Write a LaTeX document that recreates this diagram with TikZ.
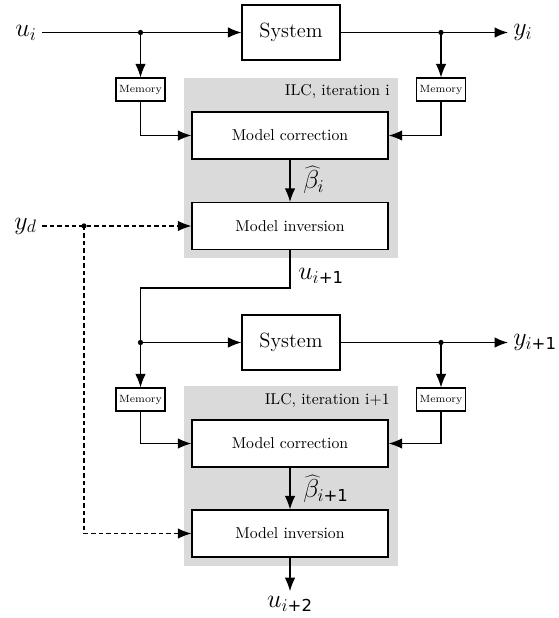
\documentclass[tikz,border=0pt]{standalone}
\usepackage{fontspec}
\usetikzlibrary{arrows.meta}
\newfontfamily\dvs{DejaVu Sans}
\definecolor{ilcgray}{RGB}{218,218,218}
\newcommand{\sub}[1]{\mbox{\fontsize{11}{12}\dvs #1}}
\begin{document}
\begin{tikzpicture}[x=0.6667pt,y=-0.6667pt,
  >={Latex[length=9pt,width=7pt]},
  line/.style={line width=0.8pt},
  dline/.style={line width=0.8pt,dash pattern=on 3pt off 2pt},
  sysbox/.style={draw,line width=0.8pt,minimum width=65.3pt,minimum height=36.7pt,fill=white,font=\fontsize{13.7}{16}\selectfont},
  modbox/.style={draw,line width=0.8pt,minimum width=130.7pt,minimum height=31.3pt,fill=white,font=\fontsize{10.5}{12}\selectfont},
  membox/.style={draw,line width=0.8pt,minimum width=32.7pt,minimum height=15.3pt,inner sep=1pt,fill=white,font=\fontsize{7}{8}\selectfont},
  lbl/.style={font=\fontsize{17}{19}\selectfont},
  dot/.style={circle,fill=black,inner sep=0pt,minimum size=3.5pt}]
\useasboundingbox (0,0) rectangle (558,618);
% gray ILC backgrounds
\fill[ilcgray] (184,78) rectangle (398,258);
\fill[ilcgray] (184,386) rectangle (398,566);
\node[anchor=east,inner sep=0pt,font=\fontsize{10.5}{12}\selectfont] (ilc1) at (390,91) {ILC, iteration i};
\node[anchor=east,inner sep=0pt,font=\fontsize{10.5}{12}\selectfont] (ilc2) at (390,400) {ILC, iteration i+1};
% nodes
\node[sysbox] (sys1) at (291,32.5) {System};
\node[sysbox] (sys2) at (291,342.5) {System};
\node[membox] (m1l) at (140.5,89.5) {Memory};
\node[membox] (m1r) at (441,89.5) {Memory};
\node[membox] (m2l) at (140.5,399.5) {Memory};
\node[membox] (m2r) at (441,399.5) {Memory};
\node[modbox] (mc1) at (290,135.5) {Model correction};
\node[modbox] (mi1) at (290,226) {Model inversion};
\node[modbox] (mc2) at (290,443.5) {Model correction};
\node[modbox] (mi2) at (290,533.5) {Model inversion};
% labels
\node[lbl,anchor=east] (ui) at (42,32.5) {$u_i$};
\node[lbl,anchor=west] (yi) at (508,32.5) {$y_i$};
\node[lbl,anchor=east] (yd) at (42,226) {$y_d$};
\node[lbl,anchor=west] (yi1) at (508,342.5) {$y_{i\sub{+1}}$};
\node[lbl,anchor=west] (ui1) at (293,276) {$u_{i\sub{+1}}$};
\node[lbl] (ui2) at (290,604) {$u_{i\sub{+2}}$};
\node[lbl,anchor=west] (b1) at (298,180) {$\widehat{\beta}_i$};
\node[lbl,anchor=west] (b2) at (298,489) {$\widehat{\beta}_{i\sub{+1}}$};
% junction coordinates
\coordinate (j1) at (140.5,32.5);
\coordinate (j2) at (441,32.5);
\coordinate (jd) at (84,226);
\coordinate (c1) at (140.5,288);
\coordinate (j3) at (140.5,342.5);
\coordinate (j4) at (441,342.5);
% iteration i
\draw[line,->] (ui.east) -- (sys1.west);
\draw[line,->] (sys1.east) -- (yi.west);
\draw[line,->] (j1) -- (m1l.north);
\draw[line,->] (j2) -- (m1r.north);
\draw[line,->] (m1l.south) |- (mc1.west);
\draw[line,->] (m1r.south) |- (mc1.east);
\draw[line,->] (mc1.south) -- (mi1.north);
\draw[dline,->] (yd.east) -- (mi1.west);
\draw[dline,->] (jd) |- (mi2.west);
% to iteration i+1
\draw[line] (mi1.south) |- (c1) -- (j3);
\draw[line,->] (j3) -- (m2l.north);
\draw[line,->] (j3) -- (sys2.west);
\draw[line,->] (sys2.east) -- (yi1.west);
\draw[line,->] (j4) -- (m2r.north);
\draw[line,->] (m2l.south) |- (mc2.west);
\draw[line,->] (m2r.south) |- (mc2.east);
\draw[line,->] (mc2.south) -- (mi2.north);
\draw[line,->] (mi2.south) -- (ui2.north);
% dots
\node[dot] at (j1) {};
\node[dot] at (j2) {};
\node[dot] at (jd) {};
\node[dot] at (j3) {};
\node[dot] at (j4) {};
\end{tikzpicture}
\end{document}
